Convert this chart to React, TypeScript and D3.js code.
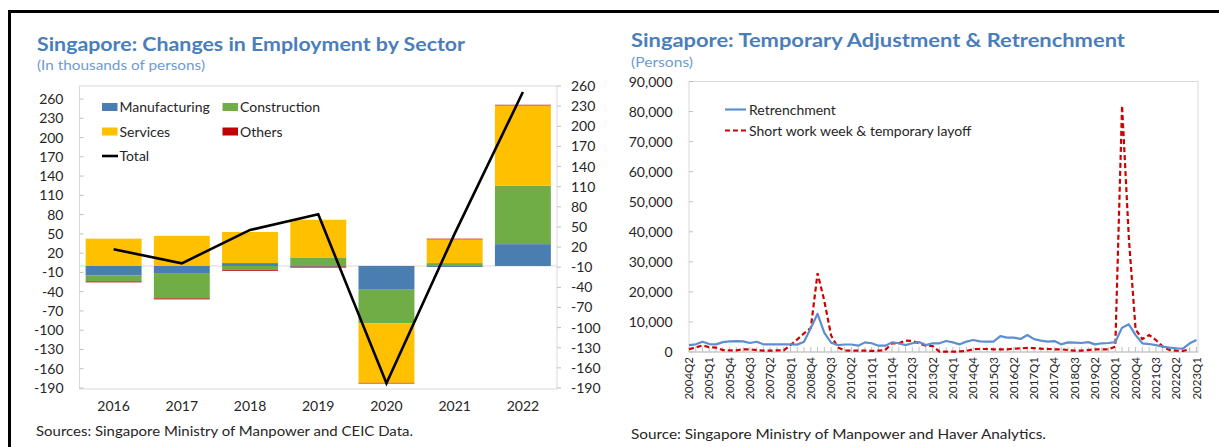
import React from "react";
import * as d3 from "d3";

// ---------- Left chart data (thousands of persons) ----------
const years = ["2016", "2017", "2018", "2019", "2020", "2021", "2022"];
const manufacturing = [-15, -11, 4.5, -1, -37, -1.5, 34];
const construction = [-9, -39.5, -6, 12.5, -52, 4.5, 91];
const services = [42.5, 47, 48.5, 59.5, -93, 37, 125];
const others = [-1.5, -1.5, -1.5, -1.5, -1, 1, 1];
const total = [16.7, -4.2, 45.5, 68.8, -183, 40, 251];
const leftTicks = [-190, -160, -130, -100, -70, -40, -10, 20, 50, 80, 110, 140, 170, 200, 230, 260];

// ---------- Right chart data (persons), 2004Q2 .. 2023Q1 ----------
const retrenchment = [
  2300, 2550, 3400, 2650, 2550, 3300, 3550, 3650, 3550, 3000,
  3400, 2550, 2550, 2550, 2550, 2550, 2450, 3400, 8000, 12700,
  6400, 3100, 2300, 2500, 2500, 2100, 3200, 2900, 2100, 2100,
  3200, 2900, 2300, 2900, 3300, 2300, 2900, 2900, 3650, 3200,
  2550, 3450, 4000, 3550, 3450, 3450, 5300, 4800, 4800, 4350,
  5650, 4300, 3800, 3450, 3650, 2550, 3200, 3100, 3000, 3300,
  2550, 2900, 3000, 3300, 8100, 9200, 5600, 2900, 2650, 2300,
  1800, 1450, 1200, 1100, 2900, 4000,
];
const shortWorkWeek: (number | null)[] = [
  900, 1550, 2200, 1550, 1450, 650, 550, 550, 900, 900,
  650, 450, 450, 550, 550, 2300, 4200, 6200, 8000, 26200,
  17000, 5500, 1500, 500, 450, 450, 450, 350, 450, 650,
  2900, 2900, 3800, 3650, 2900, 2100, 2000, 100, 100, 100,
  200, 350, 900, 1000, 1000, 900, 900, 900, 1100, 1200,
  1350, 1300, 1100, 1000, 900, 900, 650, 450, 450, 650,
  900, 900, 900, 1800, 82000, 38000, 7500, 4300, 5600, 4000,
  1800, 650, 450, 350, 900, null,
];
const rightTicks = [0, 10000, 20000, 30000, 40000, 50000, 60000, 70000, 80000, 90000];

const quarters: string[] = [];
for (let y = 2004, q = 2; !(y === 2023 && q === 2); ) {
  quarters.push(`${y}Q${q}`);
  q++;
  if (q > 4) { q = 1; y++; }
}

const FONT = "Lato, 'Open Sans', sans-serif";
const TXT = "#262626";
const TITLE = "#4a7ebb";
const SUB = "#6e9bd2";
const GRID = "#d9d9d9";
const TICK = "#bfbfbf";

const keys = ["Manufacturing", "Construction", "Services", "Others"];
const colors: Record<string, string> = {
  Manufacturing: "#4a7eb0",
  Construction: "#70ad47",
  Services: "#ffc000",
  Others: "#c00000",
};

export default function App() {
  // ----- left chart scales -----
  const L = { x0: 79.5, x1: 557, top: 86, bottom: 389 };
  const xB = d3.scaleBand<string>().domain(years).range([L.x0, L.x1]).paddingInner(0.18).paddingOuter(0.09);
  const yL = d3.scaleLinear().domain([-190, 260]).range([388, 99]);
  const yR = d3.scaleLinear().domain([-190, 260]).range([388, 86]);
  const rows = years.map((y, i) => ({
    year: y,
    Manufacturing: manufacturing[i],
    Construction: construction[i],
    Services: services[i],
    Others: others[i],
  }));
  const stacked = d3.stack<any>().keys(keys).offset(d3.stackOffsetDiverging)(rows);
  const cx = (y: string) => (xB(y) as number) + xB.bandwidth() / 2;
  const totalLine = d3.line<number>().x((_, i) => cx(years[i])).y((d) => yR(d))(total) as string;

  // ----- right chart scales -----
  const R = { x0: 689, x1: 1198, top: 81.5, bottom: 352 };
  const xQ = d3.scalePoint<string>().domain(quarters).range([689, 1196.5]);
  const yP = d3.scaleLinear().domain([0, 90000]).range([352, 81.5]);
  const retLine = d3.line<number>().x((_, i) => xQ(quarters[i]) as number).y((d) => yP(d))(retrenchment) as string;
  const swLine = d3
    .line<number | null>()
    .defined((d) => d != null)
    .x((_, i) => xQ(quarters[i]) as number)
    .y((d) => yP(d as number))(shortWorkWeek) as string;

  return (
    <svg
      width={1219}
      height={447}
      style={{ position: "absolute", left: 0, top: 0, background: "#fff" }}
      fontFamily={FONT}
    >
      <rect x={0} y={0} width={1219} height={447} fill="#fff" />
      {/* frame */}
      <path d="M9.5,447 V11.5 H1219" fill="none" stroke="#000" strokeWidth={3} />

      {/* ===== LEFT CHART ===== */}
      <text x={37} y={50.5} fontSize={18.5} fontWeight={700} fill={TITLE} textLength={428} lengthAdjust="spacingAndGlyphs">
        Singapore: Changes in Employment by Sector
      </text>
      <text x={37} y={70} fontSize={14} fill={SUB} textLength={168} lengthAdjust="spacingAndGlyphs">
        (In thousands of persons)
      </text>

      <rect x={L.x0} y={L.top} width={L.x1 - L.x0} height={L.bottom - L.top} fill="none" stroke={GRID} />
      <line x1={L.x0} x2={L.x1} y1={yL(0)} y2={yL(0)} stroke={GRID} />

      {leftTicks.map((t) => (
        <g key={"lt" + t}>
          <line x1={L.x0} x2={L.x0 + 4} y1={yL(t)} y2={yL(t)} stroke={TICK} />
          <text x={63.5} y={yL(t) + 5} fontSize={14} fill={TXT} textAnchor="end">{t}</text>
        </g>
      ))}
      {leftTicks.map((t) => (
        <g key={"rt" + t}>
          <line x1={L.x1} x2={L.x1 + 4} y1={yR(t)} y2={yR(t)} stroke={TICK} />
          <text x={571} y={yR(t) + 5} fontSize={14} fill={TXT}>{t}</text>
        </g>
      ))}

      {stacked.map((s) => (
        <g key={s.key} fill={colors[s.key]}>
          {s.map((d, i) => (
            <rect
              key={i}
              x={xB(years[i])}
              width={xB.bandwidth()}
              y={yL(d[1])}
              height={Math.max(0, yL(d[0]) - yL(d[1]))}
            />
          ))}
        </g>
      ))}
      <path d={totalLine} fill="none" stroke="#000" strokeWidth={2.6} strokeLinejoin="miter" />

      {years.map((y) => (
        <text key={y} x={cx(y)} y={411} fontSize={14} fill={TXT} textAnchor="middle">{y}</text>
      ))}

      {/* left legend */}
      <rect x={102} y={103} width={15.5} height={8} fill={colors.Manufacturing} />
      <text x={119.5} y={112} fontSize={14} fill={TXT}>Manufacturing</text>
      <rect x={222.5} y={103} width={15.5} height={8} fill={colors.Construction} />
      <text x={240} y={112} fontSize={14} fill={TXT}>Construction</text>
      <rect x={102} y={127.5} width={15.5} height={8} fill={colors.Services} />
      <text x={119.5} y={136.5} fontSize={14} fill={TXT}>Services</text>
      <rect x={222.5} y={127.5} width={15.5} height={8} fill={colors.Others} />
      <text x={240} y={136.5} fontSize={14} fill={TXT}>Others</text>
      <line x1={102} x2={118} y1={156} y2={156} stroke="#000" strokeWidth={2.6} />
      <text x={119.5} y={161} fontSize={14} fill={TXT}>Total</text>

      <text x={36} y={435.5} fontSize={14} fill={TXT} textLength={377} lengthAdjust="spacingAndGlyphs">
        Sources: Singapore Ministry of Manpower and CEIC Data.
      </text>

      {/* ===== RIGHT CHART ===== */}
      <text x={631} y={47} fontSize={18.5} fontWeight={700} fill={TITLE} textLength={494} lengthAdjust="spacingAndGlyphs">
        Singapore: Temporary Adjustment &amp; Retrenchment
      </text>
      <text x={631} y={67} fontSize={14} fill={SUB} textLength={62} lengthAdjust="spacingAndGlyphs">
        (Persons)
      </text>

      <rect x={R.x0} y={R.top} width={R.x1 - R.x0} height={R.bottom - R.top} fill="none" stroke={GRID} />
      <line x1={R.x0} x2={R.x1} y1={R.bottom} y2={R.bottom} stroke={TICK} />
      {rightTicks.map((t) => (
        <g key={"pt" + t}>
          <line x1={R.x0} x2={R.x0 + 4} y1={yP(t)} y2={yP(t)} stroke={TICK} />
          <text x={672.5} y={yP(t) + 5} fontSize={14} fill={TXT} textAnchor="end">{d3.format(",")(t)}</text>
        </g>
      ))}
      {quarters.map((q) => (
        <line key={"qt" + q} x1={xQ(q)} x2={xQ(q)} y1={R.bottom} y2={R.bottom - 5} stroke={TICK} />
      ))}
      {quarters.filter((_, i) => i % 3 === 0).map((q) => {
        const x = (xQ(q) as number) + 4;
        return (
          <text key={"ql" + q} transform={`translate(${x},357) rotate(-90)`} fontSize={11.5} fill={TXT} textAnchor="end">
            {q}
          </text>
        );
      })}

      <path d={swLine} fill="none" stroke="#d00000" strokeWidth={2.2} strokeDasharray="5,3" />
      <path d={retLine} fill="none" stroke="#5b8fd0" strokeWidth={2.2} strokeLinejoin="round" />

      {/* right legend */}
      <line x1={725} x2={746} y1={109.5} y2={109.5} stroke="#5b8fd0" strokeWidth={2.2} />
      <text x={749} y={114.5} fontSize={14} fill={TXT}>Retrenchment</text>
      <line x1={725} x2={746} y1={130.5} y2={130.5} stroke="#d00000" strokeWidth={2.2} strokeDasharray="5,3" />
      <text x={749} y={135.5} fontSize={14} fill={TXT}>Short work week &amp; temporary layoff</text>

      <text x={631} y={438.5} fontSize={14} fill={TXT} textLength={415} lengthAdjust="spacingAndGlyphs">
        Source: Singapore Ministry of Manpower and Haver Analytics.
      </text>
    </svg>
  );
}
